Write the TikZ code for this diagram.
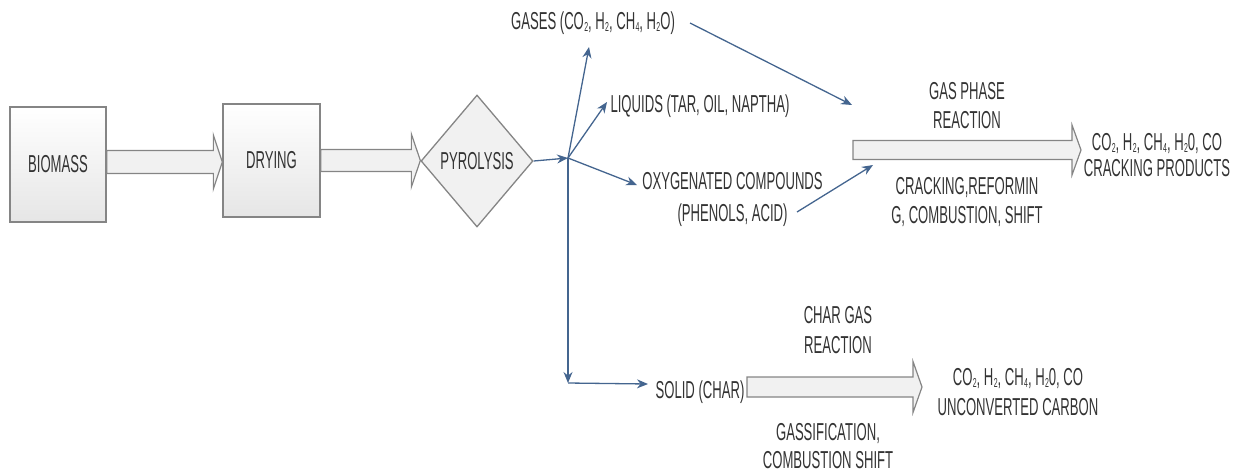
\documentclass[tikz,border=0pt]{standalone}
\usepackage{fontspec}
\setmainfont{Liberation Sans}[FakeStretch=0.535]
\usetikzlibrary{shapes.geometric,arrows.meta,calc}
\definecolor{conncol}{HTML}{44658F}
\definecolor{boxline}{HTML}{858585}
\definecolor{boxfill}{HTML}{F1F1F1}
\definecolor{txtcol}{HTML}{333333}
\newcommand{\sbs}[1]{\kern0.3pt\raisebox{-2.5pt}{\fontsize{13}{13}\selectfont #1}}
\newcommand{\myblockarrow}[5]{%
  \draw[blockarr] ($(#1)+(0,-#3)$) -- ($(#2)+(-#5,-#3)$) -- ($(#2)+(-#5,-#4)$) -- (#2)
    -- ($(#2)+(-#5,#4)$) -- ($(#2)+(-#5,#3)$) -- ($(#1)+(0,#3)$) -- cycle;}
\begin{document}
\begin{tikzpicture}[x=1pt,y=-1pt,
  every node/.style={font=\fontsize{24.5}{29}\selectfont, text=txtcol, align=center, inner sep=2pt},
  procbox/.style={draw=boxline, line width=1.3pt, top color=white, bottom color=boxfill!90!gray, minimum width=96pt},
  decbox/.style={diamond, draw=boxline, line width=1.3pt, fill=boxfill, minimum width=112pt, minimum height=132pt, inner sep=0pt},
  blockarr/.style={draw=boxline, line width=1.2pt, fill=boxfill, line join=miter},
  flow/.style={draw=conncol, line width=1.3pt, -{Stealth[length=11pt,width=9pt]}}]
\useasboundingbox (0,0) rectangle (1238,472);

% main nodes
\node[procbox, minimum height=115pt] (bio) at (58,164.5) {BIOMASS};
\node[procbox, minimum height=113pt, minimum width=97pt] (dry) at (271.5,160.5) {DRYING};
\node[decbox] (pyr) at (477,161) {PYROLYSIS};

% product labels
\node (gases) at (593,23) {GASES (CO\sbs{2}, H\sbs{2}, CH\sbs{4}, H\sbs{2}O)};
\node (liq) at (700,106) {LIQUIDS (TAR, OIL, NAPTHA)};
\node[font=\fontsize{24.5}{32}\selectfont] (oxy) at (732.5,199) {OXYGENATED COMPOUNDS\\(PHENOLS, ACID)};
\node (solid) at (700,392) {SOLID (CHAR)};
\node[font=\fontsize{24.5}{26}\selectfont] (prod1) at (1157,155) {CO\sbs{2}, H\sbs{2}, CH\sbs{4}, H\sbs{2}0, CO\\CRACKING PRODUCTS};
\node[font=\fontsize{24.5}{30}\selectfont] (prod2) at (1018,392) {CO\sbs{2}, H\sbs{2}, CH\sbs{4}, H\sbs{2}0, CO\\UNCONVERTED CARBON};

% reaction labels
\node (gpr) at (967,106) {GAS PHASE\\REACTION};
\node (crk) at (967,202.5) {CRACKING,REFORMIN\\G, COMBUSTION, SHIFT};
\node[font=\fontsize{24.5}{30}\selectfont] (cgr) at (838,330) {CHAR GAS\\REACTION};
\node[font=\fontsize{24.5}{28}\selectfont] (gsf) at (828,446) {GASSIFICATION,\\COMBUSTION SHIFT};

% coordinates
\coordinate (J) at (568,158);
\coordinate (C) at (568,383);
\coordinate (R) at (853,150);
\coordinate (a1s) at ([yshift=2.5pt]bio.east);
\coordinate (a1e) at (a1s -| dry.west);
\coordinate (a2s) at (dry.east);
\coordinate (a2e) at (dry.east -| pyr.west);
\coordinate (p1tip) at ($(prod1.center)+(-76,-5)$);
\coordinate (s1) at ($(solid.center)+(47,-5)$);
\coordinate (p2tip) at ($(prod2.center)+(-96,-5)$);

% block arrows
\myblockarrow{a1s}{a1e}{11.5}{27}{9}
\myblockarrow{a2s}{a2e}{11}{26.5}{9}
\myblockarrow{R}{p1tip}{9.5}{25}{9}
\myblockarrow{s1}{p2tip}{10}{25.5}{9}

% connectors
\draw[flow] (pyr.east) -- (J);
\draw[flow] (J) -- ($(gases.center)+(-4,24)$);
\draw[flow] (J) -- ($(liq.center)+(-93,-4)$);
\draw[flow] (J) -- ($(oxy.center)+(-95.5,-14)$);
\draw[flow] (J) -- (C);
\draw[flow] (C) -- ($(solid.center)+(-52,-8)$);
\draw[flow] ($(gases.center)+(97,0)$) -- ($(R)+(-1,-45)$);
\draw[flow] ($(oxy.center)+(64.5,13)$) -- ($(R)+(20,15)$);
\end{tikzpicture}
\end{document}
